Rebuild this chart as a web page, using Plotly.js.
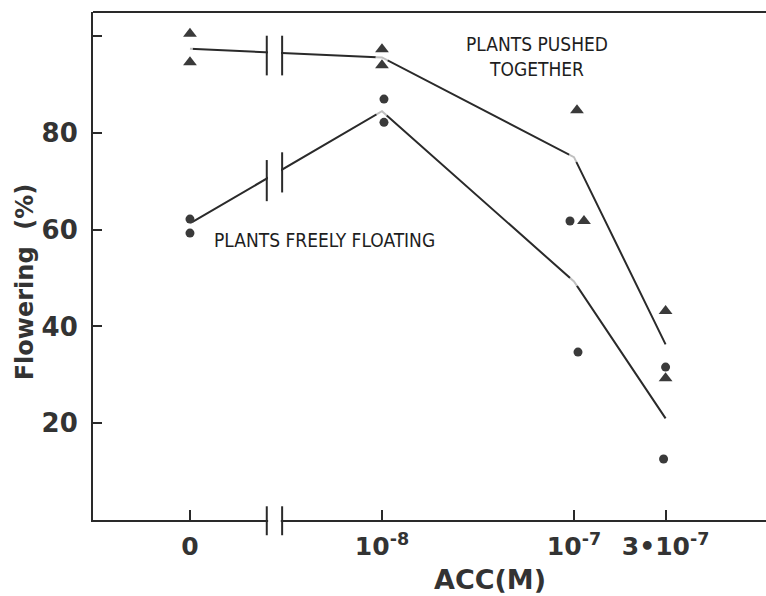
<!DOCTYPE html>
<html><head><meta charset="utf-8">
<script src="https://cdn.plot.ly/plotly-3.0.1.min.js"></script>
<style>html,body{margin:0;padding:0;background:#fff;}#chart{width:766px;height:596px;}</style>
</head><body><div id="chart"></div>
<script>
// ACC concentration categories (x drawn on a log10 scale; "0" placed one decade below 1e-8)
const concLabels = ['0', '10<sup>-8</sup>', '10<sup>-7</sup>', '3•10<sup>-7</sup>'];
const concPos = [-9, -8, -7, -6.523];

// Replicate observations, % flowering
const pushedRep1 = [100.5, 97.3, 84.7, 43.2];
const pushedRep2 = [94.6, 94.0, 61.8, 29.3];
const floatRep1 = [62.2, 87.0, 61.8, 31.6];
const floatRep2 = [59.3, 82.2, 34.7, 12.6];

// Mean lines
const pushedMean = [97.4, 95.6, 75.0, 36.3];
const floatMean = [61.3, 84.5, 49.3, 21.0];

// y ticks
const yTickVals = [20, 40, 60, 80, 100];
const yTickText = ['20', '40', '60', '80', ' '];

// ---- styling / layout ----
const xRange = [-9.505, -6.0];
const yRange = [0, 105];
const M = {l: 93, r: 0, t: 12, b: 76};
const W = 766, H = 596;
const pxPerX = (W - M.l - M.r) / (xRange[1] - xRange[0]);
// small horizontal display nudges (pixels) so overlapping replicates stay visible
const nudgeP1 = [0, 0, 3, 0], nudgeP2 = [0, 0, 10, 0];
const nudgeF1 = [0, 2, -4, 0], nudgeF2 = [0, 2, 4, -2];
const nx = (arr) => concPos.map((p, i) => p + arr[i] / pxPerX);
const gapSize = [6, 13, 11, 0];
const ink = '#2a2a2a';
const mk = '#3a3a3a';

const traces = [
  {x: concPos, y: pushedMean, mode: 'lines+markers', line: {color: ink, width: 2},
   marker: {color: '#fff', size: gapSize, line: {width: 0}}, hoverinfo: 'skip', cliponaxis: false},
  {x: concPos, y: floatMean, mode: 'lines+markers', line: {color: ink, width: 2},
   marker: {color: '#fff', size: gapSize, line: {width: 0}}, hoverinfo: 'skip', cliponaxis: false},
  {x: nx(nudgeP1), y: pushedRep1, mode: 'markers', marker: {symbol: 'triangle-up', size: 12, color: mk}},
  {x: nx(nudgeP2), y: pushedRep2, mode: 'markers', marker: {symbol: 'triangle-up', size: 12, color: mk}},
  {x: nx(nudgeF1), y: floatRep1, mode: 'markers', marker: {symbol: 'circle', size: 9, color: mk}},
  {x: nx(nudgeF2), y: floatRep2, mode: 'markers', marker: {symbol: 'circle', size: 9, color: mk}}
];

const brk = [-8.60, -8.52];
const toPaperX = (x) => (x - xRange[0]) / (xRange[1] - xRange[0]);
const shapes = [
  // top frame line
  {type: 'line', xref: 'paper', yref: 'paper', x0: 0, x1: 1, y0: 1, y1: 1, line: {color: ink, width: 2}},
  // break masks on the two lines
  {type: 'rect', xref: 'x', yref: 'y', x0: brk[0] + 0.006, x1: brk[1] - 0.006, y0: 93, y1: 99, fillcolor: '#fff', line: {width: 0}},
  {type: 'rect', xref: 'x', yref: 'y', x0: brk[0] + 0.006, x1: brk[1] - 0.006, y0: 66, y1: 76, fillcolor: '#fff', line: {width: 0}},
  // break bars on upper line
  {type: 'line', xref: 'x', yref: 'y', x0: brk[0], x1: brk[0], y0: 91.9, y1: 100.1, line: {color: ink, width: 2}},
  {type: 'line', xref: 'x', yref: 'y', x0: brk[1], x1: brk[1], y0: 91.9, y1: 100.1, line: {color: ink, width: 2}},
  // break bars on lower line
  {type: 'line', xref: 'x', yref: 'y', x0: brk[0], x1: brk[0], y0: 65.9, y1: 74.4, line: {color: ink, width: 2}},
  {type: 'line', xref: 'x', yref: 'y', x0: brk[1], x1: brk[1], y0: 67.7, y1: 76.0, line: {color: ink, width: 2}},
  // axis break
  {type: 'rect', xref: 'paper', yref: 'paper', x0: toPaperX(brk[0]) + 0.002, x1: toPaperX(brk[1]) - 0.002, y0: -0.008, y1: 0.008, fillcolor: '#fff', line: {width: 0}},
  {type: 'line', xref: 'paper', yref: 'paper', x0: toPaperX(brk[0]), x1: toPaperX(brk[0]), y0: -0.03, y1: 0.027, line: {color: ink, width: 2}},
  {type: 'line', xref: 'paper', yref: 'paper', x0: toPaperX(brk[1]), x1: toPaperX(brk[1]), y0: -0.03, y1: 0.027, line: {color: ink, width: 2}}
];

const condensed = 'Liberation Sans Narrow, DejaVu Sans Condensed, Roboto Condensed, Arial Narrow, sans-serif';
const boldFont = {family: 'DejaVu Sans, Liberation Sans, sans-serif', weight: 'bold', color: '#333'};

const annotations = [
  {xref: 'x', yref: 'y', x: -7.193, y: 95.8, text: 'PLANTS PUSHED<br>TOGETHER', showarrow: false,
   xanchor: 'center', yanchor: 'middle', font: {family: condensed, size: 19, color: '#1e1e1e'}, align: 'center'},
  {xref: 'x', yref: 'y', x: -8.297, y: 57.8, text: 'PLANTS FREELY FLOATING', showarrow: false,
   xanchor: 'center', yanchor: 'middle', font: {family: condensed, size: 19, color: '#1e1e1e'}},
  {xref: 'paper', yref: 'paper', x: -0.101, y: 0.468, text: 'Flowering  (%)', textangle: -90, showarrow: false,
   xanchor: 'center', yanchor: 'middle', font: Object.assign({}, boldFont, {size: 24})},
  {xref: 'paper', yref: 'paper', x: 0.59, y: -0.117, text: 'ACC(M)', showarrow: false,
   xanchor: 'center', yanchor: 'middle', font: Object.assign({}, boldFont, {size: 27})}
];

const layout = {
  width: W, height: H, margin: M, showlegend: false,
  paper_bgcolor: '#fff', plot_bgcolor: '#fff',
  xaxis: {range: xRange, tickvals: concPos, ticktext: concLabels, ticks: 'inside', ticklen: 10, tickwidth: 2,
          tickcolor: ink, showline: true, linecolor: ink, linewidth: 2, showgrid: false, zeroline: false,
          tickfont: Object.assign({}, boldFont, {size: 25}), ticklabelstandoff: 3},
  yaxis: {range: yRange, tickvals: yTickVals, ticktext: yTickText, ticks: 'inside', ticklen: 9, tickwidth: 2,
          tickcolor: ink, showline: true, linecolor: ink, linewidth: 2, showgrid: false, zeroline: false,
          tickfont: Object.assign({}, boldFont, {size: 26}), ticklabelstandoff: 8},
  shapes: shapes, annotations: annotations
};

Plotly.newPlot('chart', traces, layout, {displayModeBar: false, staticPlot: true});
</script>
</body></html>
